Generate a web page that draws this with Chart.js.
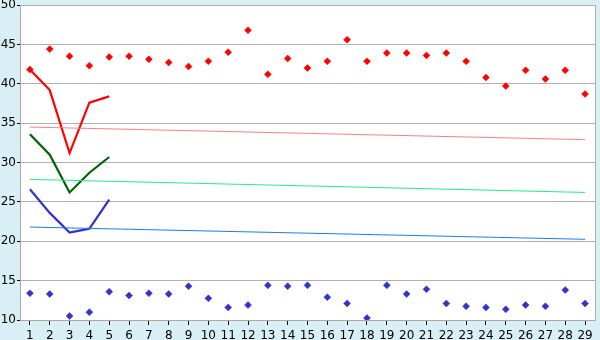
<!DOCTYPE html>
<html>
<head>
<meta charset="utf-8">
<script src="https://cdn.jsdelivr.net/npm/chart.js@4/dist/chart.umd.min.js"></script>
<style>
  html, body { margin: 0; padding: 0; background: #d9eff6; }
  canvas { display: block; }
</style>
</head>
<body>
<canvas id="chart" width="600" height="340"></canvas>
<script>
// categories 1..29
const labels = ["1","2","3","4","5","6","7","8","9","10","11","12","13","14","15",
  "16","17","18","19","20","21","22","23","24","25","26","27","28","29"];

// red dots (upper)
const redPoints = [41.8, 44.4, 43.5, 42.3, 43.4, 43.5, 43.1, 42.7, 42.2, 42.85,
  44.0, 46.8, 41.2, 43.2, 42.0, 42.85, 45.6, 42.85, 43.9, 43.9,
  43.6, 43.9, 42.85, 40.8, 39.7, 41.7, 40.6, 41.7, 38.7];

// blue dots (lower)
const bluePoints = [13.4, 13.3, 10.5, 11.0, 13.6, 13.1, 13.4, 13.3, 14.3, 12.75,
  11.6, 11.9, 14.4, 14.3, 14.4, 12.9, 12.1, 10.25, 14.4, 13.3,
  13.9, 12.1, 11.75, 11.6, 11.35, 11.9, 11.75, 13.8, 12.1];

// short lines, first five categories
const redLine = [41.8, 39.2, 31.2, 37.6, 38.4];
const greenLine = [33.6, 31.0, 26.2, 28.7, 30.7];
const blueLine = [26.6, 23.6, 21.1, 21.6, 25.3];

// trend lines: start and end values (first and last category)
const redTrend = [34.5, 32.9];
const greenTrend = [27.85, 26.2];
const blueTrend = [21.8, 20.25];

const yTicks = [10, 15, 20, 25, 30, 35, 40, 45, 50];

function trend(ends) {
  const arr = labels.map(() => null);
  arr[0] = ends[0];
  arr[labels.length - 1] = ends[1];
  return arr;
}

function dots(values, color) {
  return {
    data: values, showLine: false, pointStyle: 'rectRot', pointRadius: 3.5,
    pointBackgroundColor: color, pointBorderColor: color, pointBorderWidth: 0.5
  };
}

function line(values, color, width) {
  return {
    data: values, borderColor: color, borderWidth: width, pointRadius: 0,
    tension: 0, fill: false, spanGaps: true
  };
}

const plotBg = {
  id: 'plotBg',
  beforeDraw(chart) {
    const { ctx, chartArea: a } = chart;
    ctx.save();
    ctx.fillStyle = '#d9eff6';
    ctx.fillRect(0, 0, chart.width, chart.height);
    ctx.fillStyle = '#ffffff';
    ctx.fillRect(a.left, a.top, a.right - a.left, a.bottom - a.top);
    ctx.restore();
  },
  afterDraw(chart) {
    const { ctx, chartArea: a } = chart;
    ctx.save();
    ctx.strokeStyle = '#b0b0b0';
    ctx.lineWidth = 1;
    ctx.beginPath();
    ctx.moveTo(Math.round(a.right) + 0.5, a.top);
    ctx.lineTo(Math.round(a.right) + 0.5, a.bottom);
    ctx.stroke();
    ctx.restore();
  }
};

new Chart(document.getElementById('chart'), {
  type: 'line',
  data: {
    labels: labels,
    datasets: [
      line(trend(redTrend), '#ff8080', 1),
      line(trend(greenTrend), '#22ee88', 1),
      line(trend(blueTrend), '#1a7aff', 1),
      line(redLine, '#ff0000', 2.2),
      line(greenLine, '#006400', 2.2),
      line(blueLine, '#3333cc', 2.2),
      dots(redPoints, '#ff0000'),
      dots(bluePoints, '#3333cc')
    ]
  },
  plugins: [plotBg],
  options: {
    responsive: false,
    animation: false,
    layout: { padding: { top: 0, right: 5, left: 0, bottom: 0 } },
    plugins: { legend: { display: false }, tooltip: { enabled: false } },
    scales: {
      x: {
        offset: true,
        grid: { offset: false, drawOnChartArea: false, drawTicks: true, tickLength: 5, color: '#000000' },
        border: { color: '#a8a8a8' },
        ticks: { color: '#000000', font: { family: 'DejaVu Sans', size: 12 }, padding: 4, maxRotation: 0, autoSkip: false },
        afterFit(s) { s.height = 20; }
      },
      y: {
        min: 10, max: 50,
        afterBuildTicks(s) { s.ticks = yTicks.map(v => ({ value: v })); },
        grid: { color: '#b0b0b0', tickColor: '#000000', tickLength: 3 },
        border: { color: '#a8a8a8' },
        ticks: { color: '#000000', font: { family: 'DejaVu Sans', size: 12 }, padding: 1 },
        afterFit(s) { s.width = 20; s.paddingTop = 5; }
      }
    }
  }
});
</script>
</body>
</html>
